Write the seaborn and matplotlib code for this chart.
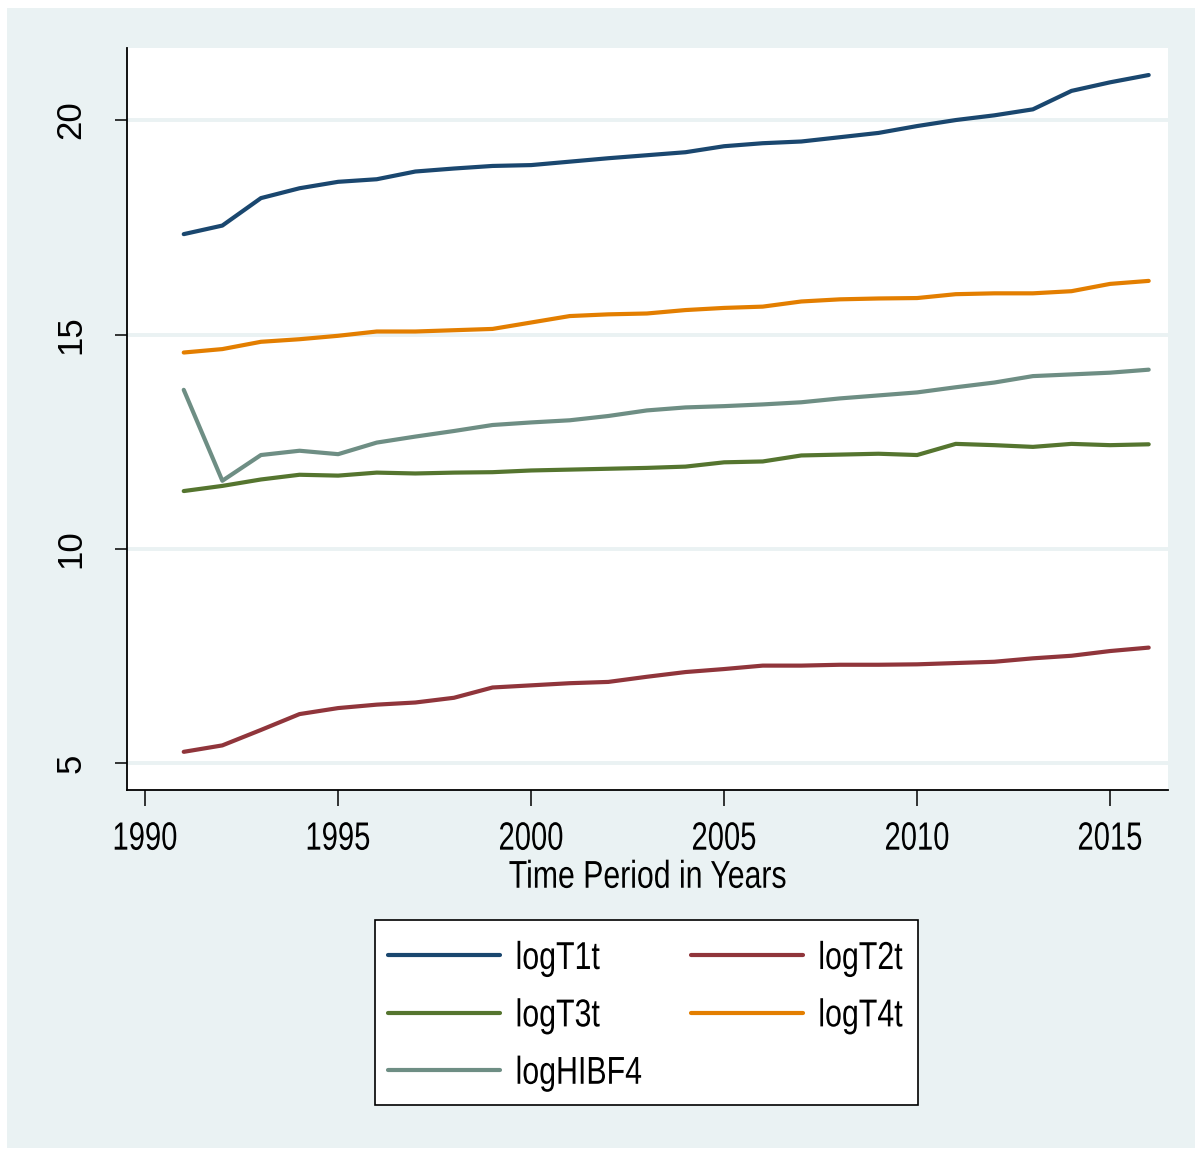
import matplotlib
matplotlib.use("Agg")
import matplotlib.pyplot as plt
from matplotlib.patches import Rectangle
from matplotlib.patheffects import AbstractPathEffect
from matplotlib.transforms import Affine2D
import seaborn as sns
import pandas as pd

years = list(range(1991, 2017))

logT1t = [17.34, 17.54, 18.18, 18.41, 18.56, 18.62, 18.80, 18.87, 18.93, 18.95,
          19.03, 19.11, 19.18, 19.25, 19.39, 19.46, 19.50, 19.60, 19.70, 19.86,
          20.00, 20.11, 20.25, 20.68, 20.88, 21.05]
logT2t = [5.27, 5.42, 5.78, 6.15, 6.29, 6.37, 6.42, 6.53, 6.77, 6.82,
          6.87, 6.90, 7.02, 7.13, 7.20, 7.28, 7.28, 7.30, 7.30, 7.31,
          7.34, 7.37, 7.45, 7.51, 7.62, 7.70]
logT3t = [11.35, 11.47, 11.62, 11.73, 11.71, 11.78, 11.76, 11.78, 11.79, 11.83,
          11.85, 11.87, 11.89, 11.92, 12.02, 12.04, 12.18, 12.20, 12.22, 12.19,
          12.45, 12.42, 12.38, 12.45, 12.42, 12.44]
logT4t = [14.58, 14.66, 14.83, 14.89, 14.97, 15.07, 15.07, 15.10, 15.13, 15.28,
          15.43, 15.47, 15.49, 15.57, 15.62, 15.65, 15.77, 15.82, 15.84, 15.85,
          15.94, 15.96, 15.96, 16.01, 16.18, 16.25]
logHIBF4 = [13.71, 11.59, 12.19, 12.29, 12.21, 12.48, 12.62, 12.75, 12.89, 12.95,
            13.00, 13.10, 13.23, 13.30, 13.33, 13.37, 13.42, 13.51, 13.58, 13.65,
            13.77, 13.88, 14.03, 14.07, 14.11, 14.18]

series_names = ["logT1t", "logT2t", "logT3t", "logT4t", "logHIBF4"]
series_values = [logT1t, logT2t, logT3t, logT4t, logHIBF4]
series_colors = ["#1A476F", "#90353B", "#55752F", "#E37E00", "#6E8E84"]

x_ticks = [1990, 1995, 2000, 2005, 2010, 2015]
y_ticks = [5, 10, 15, 20]
x_title = "Time Period in Years"

df = pd.DataFrame({
    "year": years * len(series_names),
    "value": [v for vals in series_values for v in vals],
    "series": [n for n in series_names for _ in years],
})


class Condense(AbstractPathEffect):
    """Squeeze glyphs horizontally to imitate a narrow typeface."""

    def __init__(self, sx, anchor="center"):
        super().__init__()
        self.sx = sx
        self.anchor = anchor

    def draw_path(self, renderer, gc, tpath, affine, rgbFace=None):
        v = tpath.vertices
        cx = 0.0
        if self.anchor == "center" and len(v):
            cx = 0.5 * (0.0 + v[:, 0].max())
        pre = Affine2D().translate(-cx, 0).scale(self.sx, 1.0).translate(cx, 0)
        renderer.draw_path(gc, tpath, pre + affine, rgbFace)


sns.set_style("white")
plt.rcParams["font.family"] = ["Liberation Sans", "DejaVu Sans"]
for key in ["text.color", "axes.labelcolor", "xtick.color", "ytick.color"]:
    plt.rcParams[key] = "black"

W, H = 1202, 1154
bg = "#EAF2F3"
fig = plt.figure(figsize=(W / 100, H / 100), dpi=100)
fig.patch.set_facecolor("white")
fig.patches.append(Rectangle((7 / W, 1 - 1148 / H), 1188 / W, 1140 / H,
                             transform=fig.transFigure, facecolor=bg,
                             edgecolor="none", zorder=-10))

ax = fig.add_axes([127 / W, 1 - 790 / H, 1041 / W, 742 / H])
ax.set_facecolor("white")

sns.lineplot(data=df, x="year", y="value", hue="series", hue_order=series_names,
             palette=series_colors, linewidth=3.0, ax=ax, legend=False)

ax.set_xlim(1989.53, 2016.5)
ax.set_ylim(4.38, 21.68)
ax.set_xticks(x_ticks)
ax.set_yticks(y_ticks)
ax.grid(False)
for yv in y_ticks:
    ax.axhline(yv, color=bg, linewidth=2.8, zorder=0)

for side in ["top", "right"]:
    ax.spines[side].set_visible(False)
for side in ["left", "bottom"]:
    ax.spines[side].set_color("black")
    ax.spines[side].set_linewidth(1.3)

ax.tick_params(axis="x", direction="out", length=11.3, width=1.1, color="black",
               pad=11.5, labelsize=28.4, bottom=True)
ax.tick_params(axis="y", direction="out", length=8.6, width=1.1, color="black",
               pad=20, labelsize=25, left=True)
for lab in ax.get_xticklabels():
    lab.set_path_effects([Condense(0.74)])
for lab in ax.get_yticklabels():
    lab.set_rotation(90)
    lab.set_va("center")

xl = ax.set_xlabel(x_title, fontsize=27.9, labelpad=1.5)
xl.set_path_effects([Condense(0.78)])
ax.set_ylabel("")

# legend box
fig.patches.append(Rectangle((375 / W, 1 - 1105 / H), 543 / W, 185 / H,
                             transform=fig.transFigure, facecolor="white",
                             edgecolor="black", linewidth=1.2, zorder=1))

handle_map = {name: plt.Line2D([], [], color=color, linewidth=3.0)
              for name, color in zip(series_names, series_colors)}
order = ["logT1t", "logT3t", "logHIBF4", "logT2t", "logT4t"]
leg = fig.legend([handle_map[n] for n in order], order, loc="upper left",
                 bbox_to_anchor=(388 / W, 1 - 941 / H), ncol=2, frameon=False,
                 prop={"size": 28}, handlelength=2.88, handletextpad=0.4,
                 columnspacing=0.34, labelspacing=0.55, borderpad=0,
                 borderaxespad=0)
leg.set_zorder(5)
for t in leg.get_texts():
    t.set_color("black")
    t.set_path_effects([Condense(0.78, anchor="left")])

fig.savefig("out.png", dpi=100, facecolor=fig.get_facecolor())
